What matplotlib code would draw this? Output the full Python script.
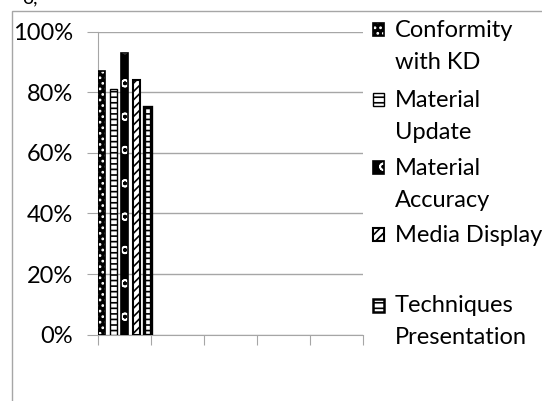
import matplotlib.pyplot as plt
from matplotlib.patches import Rectangle
from matplotlib.ticker import PercentFormatter

plt.rcParams['font.family'] = ['Lato', 'DejaVu Sans']
plt.rcParams['hatch.linewidth'] = 1.2

# data
series = [['Conformity', 'with KD'], ['Material', 'Update'], ['Material', 'Accuracy'],
          ['Media Display', ''], ['Techniques', 'Presentation']]
values = [0.87, 0.81, 0.93, 0.84, 0.75]
n_categories = 5

# (facecolor, hatchcolor, hatch, outline width) for each series
styles = [('black', 'white', '...', 1.2),
          ('white', 'black', '---', 1.0),
          ('black', 'white', 'o', 1.2),
          ('white', 'black', '////', 1.5),
          ('white', 'black', '---', 2.4)]

fig = plt.figure(figsize=(5.42, 4.01), dpi=100)
ax = fig.add_axes([0.1808, 0.1656, 0.489, 0.7554])

grey = '#a6a6a6'
width = 0.13
for i, (v, st) in enumerate(zip(values, styles)):
    x = 0.068 + i * 0.218
    ax.bar(x, v, width, color=st[0], edgecolor=st[1], hatch=st[2], lw=0, zorder=3)
    ax.bar(x, v, width, fill=False, edgecolor='black', lw=st[3], zorder=4)

ax.set_xlim(0, n_categories)
ax.set_ylim(0, 1)
ax.set_yticks([0, 0.2, 0.4, 0.6, 0.8, 1.0])
ax.yaxis.set_major_formatter(PercentFormatter(1.0, decimals=0))
ax.set_xticks(range(n_categories + 1))
ax.set_xticklabels([])
ax.tick_params(axis='y', length=8, color=grey, labelsize=17, pad=10)
ax.tick_params(axis='x', length=7, color=grey)
ax.grid(axis='y', color=grey, lw=1, zorder=0)
for s in ['top', 'right']:
    ax.spines[s].set_visible(False)
for s in ['left', 'bottom']:
    ax.spines[s].set_color(grey)

# legend drawn by hand so markers sit on the first text line
leg_y = [29.5, 99.5, 167.5, 234.5, 305]  # pixel rows of each entry
line_gap = 32
for lines, st, yp in zip(series, styles, leg_y):
    y = 1 - yp / 401
    fig.patches.append(Rectangle((373 / 542, y - 6.5 / 401), 11 / 542, 13 / 401,
                                 transform=fig.transFigure, facecolor=st[0],
                                 edgecolor=st[1], hatch=st[2], lw=0))
    fig.patches.append(Rectangle((373 / 542, y - 6.5 / 401), 11 / 542, 13 / 401,
                                 transform=fig.transFigure, fill=False,
                                 edgecolor='black', lw=min(st[3], 1.8)))
    for k, txt in enumerate(lines):
        fig.text(395 / 542, 1 - (yp + k * line_gap + 1) / 401, txt, fontsize=17, va='center')

# outer frame of the chart object
fig.patches.append(Rectangle((12 / 542, -0.05), 1.1, 1 - 11 / 401 + 0.05,
                             transform=fig.transFigure, fill=False, edgecolor=grey, lw=1))
fig.text(0.04, 1.005, 'o,', fontsize=14, va='center')

fig.savefig('out.png', dpi=100)
